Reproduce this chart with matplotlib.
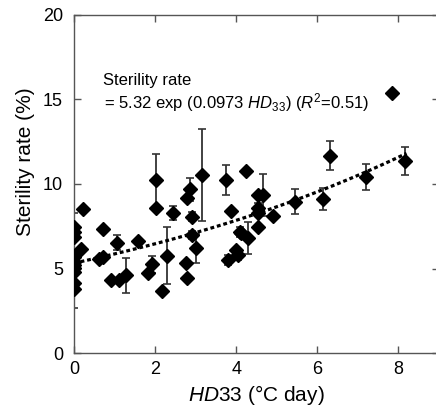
import matplotlib
matplotlib.use("Agg")
import matplotlib.pyplot as plt
import numpy as np

# data: HD33 (degC day), sterility rate (%), error (SD, 0 = none)
hd = [0, 0, 0, 0, 0, 0, 0, 0, 0, 0,
      0.17, 0.23, 0.72, 0.62, 0.72, 1.07, 1.59, 0.91, 1.10, 1.28,
      1.83, 1.92, 2.02, 2.02, 2.43, 2.30, 2.16, 2.86, 2.79, 3.16,
      2.92, 2.92, 3.02, 2.76, 2.79, 3.76, 3.88, 3.80, 4.25, 4.54,
      4.66, 4.54, 4.54, 4.91, 4.54, 4.09, 4.13, 4.29, 4.00, 4.05,
      5.44, 7.84, 6.32, 6.14, 7.19, 8.17]
rate = [7.46, 7.17, 6.85, 5.70, 5.40, 5.21, 5.01, 4.81, 4.12, 3.77,
        6.15, 8.50, 7.34, 5.54, 5.66, 6.53, 6.65, 4.32, 4.32, 4.60,
        4.71, 5.25, 10.24, 8.60, 8.27, 5.76, 3.67, 9.68, 9.15, 10.53,
        8.07, 6.98, 6.19, 5.31, 4.42, 10.24, 8.42, 5.50, 10.79, 9.35,
        9.35, 8.56, 8.26, 8.10, 7.47, 7.18, 7.08, 6.79, 6.10, 5.80,
        8.95, 15.40, 11.66, 9.11, 10.43, 11.38]
err = [0, 1.1, 0, 0, 0, 0.3, 0, 0, 0, 1.1,
       0, 0, 0, 0, 0, 0.45, 0, 0, 0, 1.05,
       0, 0.5, 1.55, 0, 0.4, 1.67, 0, 0.7, 0, 2.7,
       0.25, 0.25, 0.85, 0, 0, 0.87, 0, 0.3, 0, 0,
       1.22, 0.3, 0, 0, 0, 0.3, 0, 0.95, 0, 0.3,
       0.75, 0, 0.86, 0.65, 0.77, 0.82]

a_coef = 5.32
b_coef = 0.0973

plt.rcParams['font.family'] = ['Liberation Sans', 'DejaVu Sans']
plt.rcParams['mathtext.fontset'] = 'custom'
plt.rcParams['mathtext.rm'] = 'Liberation Sans'
plt.rcParams['mathtext.it'] = 'Liberation Sans:italic'

fig = plt.figure(figsize=(4.36, 4.08), dpi=100)
ax = fig.add_axes([74/436, 55/408, 365/436, 338/408])

ax.errorbar(hd, rate, yerr=err, fmt='none', ecolor='#333333',
            elinewidth=1.3, capsize=3, capthick=1.2, zorder=2)
ax.plot(hd, rate, 'D', color='black', markersize=7.5, zorder=3)

xf = np.linspace(0, 8.2, 100)
ax.plot(xf, a_coef * np.exp(b_coef * xf), color='black', lw=2.3,
        linestyle=(0, (1.2, 0.9)), zorder=4)

ax.text(0.71, 15.86, "Sterility rate", fontsize=12, va='baseline')
ax.text(0.73, 14.45, r"= 5.32 exp (0.0973 $\it{HD}_{33}$) ($\it{R}^{2}$=0.51)",
        fontsize=12, va='baseline')

ax.set_xlim(0, 9)
ax.set_ylim(0, 20)
ax.set_xticks([0, 2, 4, 6, 8])
ax.set_yticks([0, 5, 10, 15, 20])
ax.tick_params(direction='in', top=True, right=True, length=5,
               width=1, color='#555555', labelsize=13)
ax.tick_params(axis='y', pad=8)
ax.tick_params(axis='x', pad=6)
for s in ax.spines.values():
    s.set_color('#555555')
    s.set_linewidth(1)

ax.set_xlabel(r"$\it{HD}$33 (°C day)", fontsize=15)
ax.set_ylabel("Sterility rate (%)", fontsize=15)
ax.yaxis.set_label_coords(-0.107, 0.565)
ax.xaxis.set_label_coords(0.5, -0.088)

fig.savefig("out.png", dpi=100)
